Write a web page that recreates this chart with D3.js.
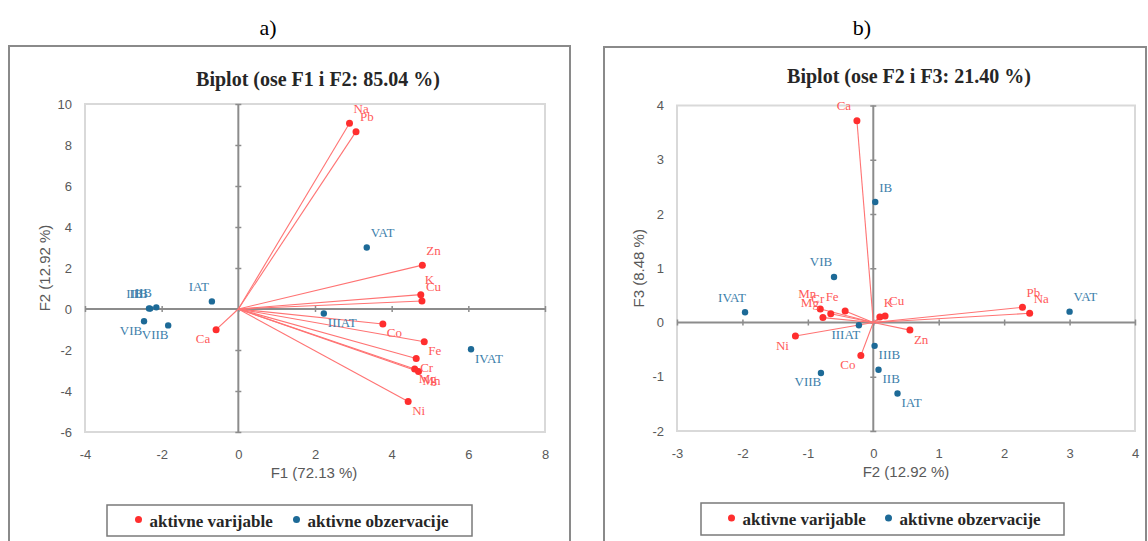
<!DOCTYPE html>
<html>
<head>
<meta charset="utf-8">
<script src="https://cdn.jsdelivr.net/npm/d3@7"></script>
<style>
  html, body { margin: 0; padding: 0; background: #fff; }
  svg { display: block; }
</style>
</head>
<body>
<svg id="chart" width="1148" height="541"></svg>
<script>
// ---------------- DATA ----------------
const variables = ["Na", "Pb", "Zn", "K", "Cu", "Co", "Fe", "Cr", "Mg", "Mn", "Ni", "Ca"];
// panel a) variable coordinates (F1, F2)
const varA_F1 = [2.90, 3.07, 4.80, 4.76, 4.79, 3.77, 4.85, 4.64, 4.60, 4.70, 4.43, -0.58];
const varA_F2 = [9.06, 8.65, 2.14, 0.70, 0.39, -0.73, -1.60, -2.41, -2.93, -3.05, -4.51, -1.01];
// panel b) variable coordinates (F2, F3)
const varB_F2 = [2.39, 2.28, 0.56, 0.10, 0.18, -0.19, -0.43, -0.65, -0.77, -0.81, -1.19, -0.25];
const varB_F3 = [0.17, 0.28, -0.14, 0.10, 0.12, -0.61, 0.21, 0.16, 0.09, 0.25, -0.25, 3.72];

const observations = ["IAT", "IB", "IIB", "IIIAT", "IIIB", "IVAT", "VAT", "VIB", "VIIB"];
const obsF1 = [-0.69, -2.33, -2.14, 2.23, -2.30, 6.07, 3.35, -2.46, -1.83];
const obsF2 = [0.37, 0.03, 0.08, -0.22, 0.02, -1.96, 3.00, -0.60, -0.80];
const obsF3 = [-1.31, 2.22, -0.87, -0.05, -0.43, 0.19, 0.20, 0.84, -0.93];

const ticksA_x = [-4, -2, 0, 2, 4, 6, 8];
const ticksA_y = [-6, -4, -2, 0, 2, 4, 6, 8, 10];
const ticksB_x = [-3, -2, -1, 0, 1, 2, 3, 4];
const ticksB_y = [-2, -1, 0, 1, 2, 3, 4];

const legendLabels = ["aktivne varijable", "aktivne obzervacije"];

// ---------------- STYLE ----------------
const RED_DOT = "#ff2e2e", RED_LINE = "#ff7373", RED_TEXT = "#ff5a5a";
const BLUE_DOT = "#1d6a97", BLUE_TEXT = "#3d80ab";
const SERIF = "'Liberation Serif', 'Times New Roman', serif";
const SANS = "'Liberation Sans', Arial, sans-serif";

const svg = d3.select("#chart");

const panels = [
  {
    tag: "a)", tagX: 268,
    box: {x: 9, y: 46, w: 561, h: 510},
    plot: {x0: 85, x1: 545, y0: 104, y1: 432},
    xDom: [-4, 8], yDom: [-6, 10], xt: ticksA_x, yt: ticksA_y,
    title: "Biplot (ose F1 i F2: 85.04 %)", titleX: 318, titleY: 86,
    xLabel: "F1 (72.13 %)", xLabelX: 314, xLabelY: 478,
    yLabel: "F2 (12.92 %)", yLabelX: 50,
    vx: varA_F1, vy: varA_F2, ox: obsF1, oy: obsF2,
    legend: {x: 107, y: 505, w: 365, h: 31, d1: 138.5, d2: 296.5}
  },
  {
    tag: "b)", tagX: 862,
    box: {x: 604, y: 47, w: 542, h: 510},
    plot: {x0: 677, x1: 1135, y0: 105.5, y1: 431},
    xDom: [-3, 4], yDom: [-2, 4], xt: ticksB_x, yt: ticksB_y,
    title: "Biplot (ose F2 i F3: 21.40 %)", titleX: 909, titleY: 83,
    xLabel: "F2 (12.92 %)", xLabelX: 906, xLabelY: 477,
    yLabel: "F3 (8.48 %)", yLabelX: 644,
    vx: varB_F2, vy: varB_F3, ox: obsF2, oy: obsF3,
    legend: {x: 701, y: 503, w: 363, h: 32, d1: 731.5, d2: 888.5}
  }
];

panels.forEach(p => {
  const g = svg.append("g");
  const x = d3.scaleLinear().domain(p.xDom).range([p.plot.x0, p.plot.x1]);
  const y = d3.scaleLinear().domain(p.yDom).range([p.plot.y1, p.plot.y0]);

  // sub-figure tag
  g.append("text").attr("x", p.tagX).attr("y", 35)
    .attr("text-anchor", "middle").attr("font-family", SERIF)
    .attr("font-size", 22).attr("fill", "#000").text(p.tag);

  // panel box
  g.append("rect").attr("x", p.box.x).attr("y", p.box.y)
    .attr("width", p.box.w).attr("height", p.box.h)
    .attr("fill", "none").attr("stroke", "#8a8a8a").attr("stroke-width", 2);

  // title
  g.append("text").attr("x", p.titleX).attr("y", p.titleY)
    .attr("text-anchor", "middle").attr("font-family", SERIF)
    .attr("font-weight", "bold").attr("font-size", 20).attr("fill", "#262626")
    .text(p.title);

  // plot border
  g.append("rect").attr("x", p.plot.x0).attr("y", p.plot.y0)
    .attr("width", p.plot.x1 - p.plot.x0).attr("height", p.plot.y1 - p.plot.y0)
    .attr("fill", "none").attr("stroke", "#d9d9d9").attr("stroke-width", 2);

  // tick labels (axes at plot edges, labels only)
  const fmt = d => String(d);
  const xAx = g.append("g").attr("transform", `translate(0,${p.plot.y1})`)
    .call(d3.axisBottom(x).tickValues(p.xt).tickFormat(fmt).tickSize(0).tickPadding(18));
  const yAx = g.append("g").attr("transform", `translate(${p.plot.x0},0)`)
    .call(d3.axisLeft(y).tickValues(p.yt).tickFormat(fmt).tickSize(0).tickPadding(13));
  [xAx, yAx].forEach(a => {
    a.select(".domain").remove();
    a.selectAll("text").attr("font-family", SANS).attr("font-size", 13).attr("fill", "#595959");
  });

  // zero lines with tick marks
  g.append("line").attr("x1", p.plot.x0).attr("x2", p.plot.x1)
    .attr("y1", y(0)).attr("y2", y(0)).attr("stroke", "#8c8c8c").attr("stroke-width", 2);
  g.append("line").attr("x1", x(0)).attr("x2", x(0))
    .attr("y1", p.plot.y0).attr("y2", p.plot.y1).attr("stroke", "#8c8c8c").attr("stroke-width", 2);
  const zx = g.append("g").attr("transform", `translate(0,${y(0) - 3})`)
    .call(d3.axisBottom(x).tickValues(p.xt).tickFormat("").tickSize(6));
  const zy = g.append("g").attr("transform", `translate(${x(0) + 3},0)`)
    .call(d3.axisLeft(y).tickValues(p.yt).tickFormat("").tickSize(6));
  [zx, zy].forEach(a => {
    a.select(".domain").remove();
    a.selectAll("line").attr("stroke", "#8c8c8c").attr("stroke-width", 1.5);
  });

  // axis titles
  g.append("text").attr("x", p.xLabelX).attr("y", p.xLabelY)
    .attr("text-anchor", "middle").attr("font-family", SANS)
    .attr("font-size", 15).attr("fill", "#595959").text(p.xLabel);
  const yc = (p.plot.y0 + p.plot.y1) / 2;
  g.append("text").attr("transform", `translate(${p.yLabelX},${yc}) rotate(-90)`)
    .attr("text-anchor", "middle").attr("font-family", SANS)
    .attr("font-size", 15).attr("fill", "#595959").text(p.yLabel);

  // vectors
  const vars = variables.map((n, i) => ({name: n, vx: p.vx[i], vy: p.vy[i]}));
  const obs = observations.map((n, i) => ({name: n, vx: p.ox[i], vy: p.oy[i]}));

  g.append("g").selectAll("line").data(vars).join("line")
    .attr("x1", x(0)).attr("y1", y(0))
    .attr("x2", d => x(d.vx)).attr("y2", d => y(d.vy))
    .attr("stroke", RED_LINE).attr("stroke-width", 1.1);

  const labelX = d => d.vx >= 0 ? x(d.vx) + 4 : x(d.vx) - 13;
  const labelY = d => d.vy >= 0 ? y(d.vy) - 10.5 : y(d.vy) + 13.5;
  const labelA = d => d.vx >= 0 ? "start" : "middle";

  // observations
  g.append("g").selectAll("circle").data(obs).join("circle")
    .attr("cx", d => x(d.vx)).attr("cy", d => y(d.vy)).attr("r", 3.2)
    .attr("fill", BLUE_DOT);
  g.append("g").selectAll("text").data(obs).join("text")
    .attr("x", labelX).attr("y", labelY).attr("text-anchor", labelA)
    .attr("font-family", SERIF).attr("font-size", 13).attr("fill", BLUE_TEXT)
    .text(d => d.name);

  // variables
  g.append("g").selectAll("circle").data(vars).join("circle")
    .attr("cx", d => x(d.vx)).attr("cy", d => y(d.vy)).attr("r", 3.5)
    .attr("fill", RED_DOT);
  g.append("g").selectAll("text").data(vars).join("text")
    .attr("x", labelX).attr("y", labelY).attr("text-anchor", labelA)
    .attr("font-family", SERIF).attr("font-size", 13).attr("fill", RED_TEXT)
    .text(d => d.name);

  // legend
  const L = p.legend;
  g.append("rect").attr("x", L.x).attr("y", L.y).attr("width", L.w).attr("height", L.h)
    .attr("fill", "#fff").attr("stroke", "#7a7a7a").attr("stroke-width", 1.5);
  const ly = L.y + L.h / 2;
  [[L.d1, RED_DOT, legendLabels[0]], [L.d2, BLUE_DOT, legendLabels[1]]].forEach(([dx, c, t]) => {
    g.append("circle").attr("cx", dx).attr("cy", ly - 1).attr("r", 3.5).attr("fill", c);
    g.append("text").attr("x", dx + 11).attr("y", ly + 6)
      .attr("font-family", SERIF).attr("font-weight", "bold").attr("font-size", 17)
      .attr("fill", "#262626").text(t);
  });
});
</script>
</body>
</html>
